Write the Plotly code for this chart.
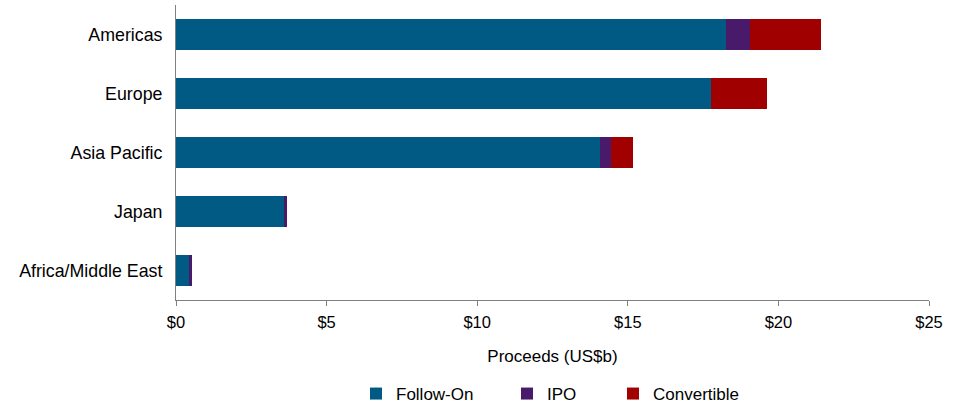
import plotly.graph_objects as go

# Regions, listed top to bottom
regions = ["Americas", "Europe", "Asia Pacific", "Japan", "Africa/Middle East"]

# Proceeds by offering type (US$b)
follow_on = [18.26, 17.76, 14.08, 3.59, 0.43]
ipo = [0.80, 0.00, 0.37, 0.10, 0.10]
convertible = [2.35, 1.86, 0.73, 0.00, 0.00]

x_ticks = [0, 5, 10, 15, 20, 25]
x_tick_labels = ["$0", "$5", "$10", "$15", "$20", "$25"]

series = [
    ("Follow-On", follow_on, "#005A84", "legend"),
    ("IPO", ipo, "#4A1A6A", "legend2"),
    ("Convertible", convertible, "#A00000", "legend3"),
]

fig = go.Figure()
for name, vals, color, leg in series:
    fig.add_trace(go.Bar(
        name=name,
        y=regions,
        x=vals,
        orientation="h",
        marker=dict(color=color, line=dict(width=0)),
        legend=leg,
    ))

font_family = "Liberation Sans, Arial, sans-serif"

# plot area in pixels
L_MARGIN, R_MARGIN, T_MARGIN, B_MARGIN = 176, 34, 5, 104
plot_w = 963 - L_MARGIN - R_MARGIN
plot_h = 404 - T_MARGIN - B_MARGIN


def legend_box(px_left, py_center):
    return dict(
        orientation="h",
        x=(px_left - L_MARGIN) / plot_w,
        xanchor="left",
        y=(404 - B_MARGIN - py_center) / plot_h,
        yanchor="middle",
        font=dict(size=17),
        bgcolor="rgba(0,0,0,0)",
    )


fig.update_layout(
    width=963,
    height=404,
    barmode="stack",
    bargap=0.49,
    plot_bgcolor="white",
    paper_bgcolor="white",
    margin=dict(l=L_MARGIN, r=R_MARGIN, t=T_MARGIN, b=B_MARGIN, autoexpand=False),
    font=dict(family=font_family, size=17, color="#000000"),
    legend=legend_box(356, 394),
    legend2=legend_box(507, 394),
    legend3=legend_box(613, 394),
    showlegend=True,
)

fig.update_xaxes(
    range=[0, 25],
    tickvals=x_ticks,
    ticktext=x_tick_labels,
    showgrid=False,
    zeroline=False,
    showline=True,
    linecolor="#808080",
    linewidth=1,
    ticks="outside",
    ticklen=5,
    tickcolor="#808080",
    tickfont=dict(size=16.5),
    ticklabelstandoff=2,
    title=dict(text="Proceeds (US$b)", font=dict(size=17), standoff=20),
)

fig.update_yaxes(
    categoryorder="array",
    categoryarray=regions[::-1],
    showgrid=False,
    zeroline=False,
    showline=True,
    linecolor="#808080",
    linewidth=1,
    ticks="",
    ticklabelstandoff=9,
    tickfont=dict(size=17.8),
)

fig.write_html("out.html")
